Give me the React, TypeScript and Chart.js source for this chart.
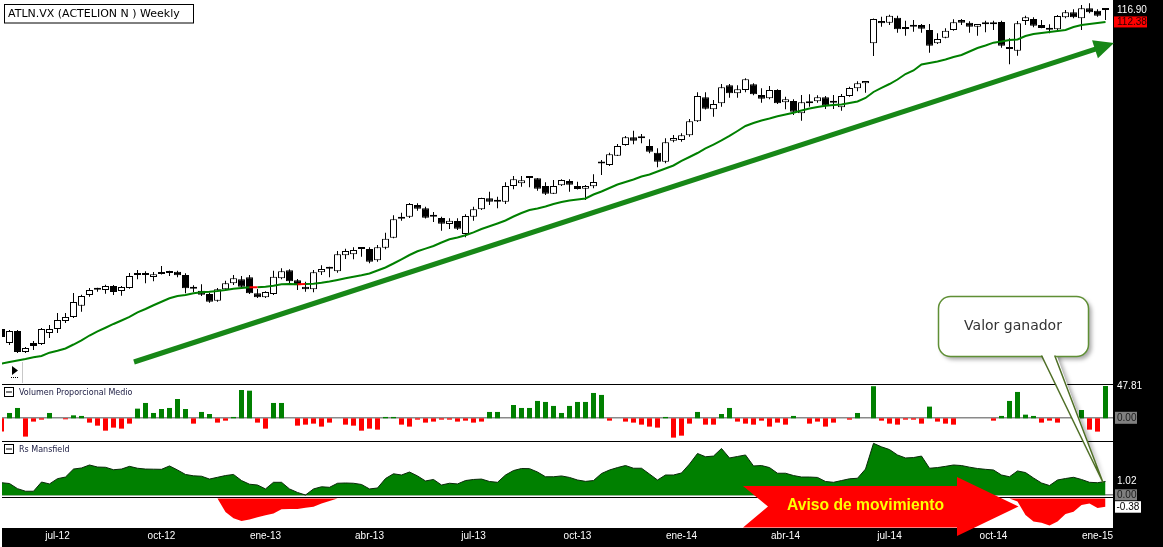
import React, { useEffect, useRef } from 'react';
import { Chart, registerables } from 'chart.js';

Chart.register(...registerables);

// ---------------- DATA (weekly candles) ----------------
const opens = [
  40.80, 38.96, 40.53, 37.82, 38.96, 38.83, 40.26, 40.80, 41.89, 42.45,
  44.06, 45.64, 46.45, 46.40, 47.02, 46.25, 46.71, 48.75, 48.75, 48.43,
  48.91, 49.08, 49.29, 48.75, 46.60, 46.29, 45.79, 44.79, 46.51, 47.44,
  48.07, 48.39, 45.90, 45.30, 45.79, 48.23, 49.52, 47.91, 46.91, 46.51,
  49.19, 49.78, 49.36, 52.03, 52.20, 53.13, 53.13, 51.18, 53.35, 55.14,
  58.71, 59.10, 61.42, 60.76, 59.10, 58.85, 57.69, 58.27, 55.82, 59.10,
  60.56, 62.80, 62.10, 62.10, 65.40, 65.98, 67.15, 67.08, 65.40, 63.76,
  65.55, 66.49, 65.40, 64.82, 65.33, 70.79, 70.09, 72.27, 74.87, 76.81,
  76.55, 74.63, 73.00, 70.86, 75.95, 76.12, 77.31, 80.96, 87.64, 84.24,
  85.92, 91.18, 88.81, 89.78, 91.48, 88.31, 87.35, 89.78, 86.21, 86.58,
  83.11, 86.38, 86.49, 87.64, 86.09, 84.80, 88.02, 90.29, 91.79, 104.74,
  112.73, 112.10, 113.96, 109.79, 110.63, 111.25, 109.43, 104.74, 106.69, 109.43,
  113.10, 112.10, 110.63, 111.51, 111.51, 112.36, 102.78, 102.21, 112.73, 113.48,
  111.25, 109.54, 109.68, 114.12, 116.02, 113.74, 117.56, 116.63, 117.17,
];
const highs = [
  41.07, 40.66, 40.66, 38.45, 39.21, 40.93, 41.34, 43.01, 43.01, 45.94,
  45.69, 46.71, 46.75, 47.22, 47.17, 47.02, 49.08, 49.57, 49.36, 49.24,
  50.23, 49.46, 49.46, 49.03, 47.12, 47.28, 45.99, 46.71, 47.85, 48.75,
  48.59, 48.75, 46.55, 46.20, 49.46, 49.85, 49.68, 48.12, 47.69, 49.57,
  50.34, 50.11, 52.78, 53.18, 53.43, 53.18, 53.43, 53.83, 56.06, 59.37,
  59.89, 61.83, 61.77, 61.08, 60.02, 59.10, 58.79, 58.79, 59.57, 61.08,
  62.92, 64.18, 63.13, 66.20, 67.60, 67.60, 67.60, 67.15, 66.20, 66.71,
  66.87, 66.87, 66.34, 65.61, 67.98, 71.26, 73.00, 75.12, 77.14, 78.49,
  77.65, 76.30, 74.06, 76.55, 77.39, 77.83, 81.58, 89.10, 89.10, 86.86,
  91.57, 91.57, 91.18, 93.31, 91.79, 90.29, 90.97, 89.99, 87.82, 87.06,
  88.31, 88.52, 88.22, 88.02, 88.31, 88.60, 90.76, 92.40, 92.49, 113.67,
  114.34, 115.09, 114.72, 112.84, 113.10, 111.62, 111.62, 108.25, 110.05, 113.36,
  113.48, 112.62, 111.62, 112.84, 112.84, 112.84, 106.48, 112.73, 114.72, 114.12,
  113.10, 111.51, 114.98, 116.90, 117.17, 118.84, 119.51, 117.17, 117.56,
];
const lows = [
  39.60, 38.70, 37.69, 37.69, 38.07, 38.70, 39.60, 40.26, 41.62, 42.31,
  43.20, 45.39, 46.14, 45.84, 45.64, 45.54, 46.60, 48.07, 47.44, 47.75,
  48.83, 48.59, 48.39, 45.90, 46.10, 45.49, 44.50, 44.64, 46.29, 47.17,
  46.66, 45.79, 45.19, 45.19, 45.64, 48.07, 47.44, 46.40, 46.14, 46.05,
  48.75, 48.39, 49.13, 51.40, 51.35, 51.79, 50.68, 50.94, 53.08, 55.03,
  58.33, 58.85, 60.28, 58.75, 58.08, 56.43, 56.75, 56.56, 55.21, 58.33,
  60.42, 61.42, 60.76, 61.62, 64.69, 65.25, 65.12, 64.39, 63.48, 63.69,
  65.40, 64.18, 64.65, 62.45, 64.90, 67.82, 69.86, 72.20, 74.70, 75.05,
  75.30, 72.85, 69.56, 70.48, 75.55, 75.70, 76.96, 80.78, 84.18, 82.21,
  84.96, 87.53, 87.53, 89.10, 88.22, 86.09, 87.06, 85.72, 84.24, 82.67,
  81.12, 84.96, 86.09, 84.32, 84.32, 83.85, 87.82, 89.40, 88.99, 100.44,
  110.63, 111.25, 108.46, 107.39, 108.82, 108.46, 101.54, 104.50, 106.48, 109.18,
  111.25, 108.46, 107.39, 108.61, 109.43, 103.23, 97.72, 100.54, 111.25, 110.41,
  110.05, 108.25, 109.43, 113.74, 113.74, 109.43, 115.63, 114.34, 113.10,
];
const closes = [
  39.74, 40.53, 37.82, 38.32, 38.57, 40.80, 40.80, 42.03, 42.45, 44.60,
  45.49, 46.40, 46.45, 47.02, 46.10, 46.86, 48.59, 48.75, 48.75, 48.86,
  48.91, 49.08, 48.70, 46.66, 46.60, 45.69, 44.64, 46.51, 47.44, 48.23,
  46.91, 45.90, 45.30, 46.10, 48.48, 49.36, 47.75, 47.12, 46.51, 49.19,
  49.73, 49.78, 52.20, 52.78, 52.95, 53.13, 50.94, 53.43, 54.96, 58.60,
  59.10, 61.62, 60.68, 58.91, 59.10, 57.75, 58.33, 56.80, 59.24, 60.56,
  62.86, 62.10, 62.10, 65.40, 66.87, 66.64, 67.15, 64.82, 63.76, 65.40,
  66.71, 65.68, 64.75, 65.40, 66.27, 70.44, 72.61, 74.63, 76.81, 75.95,
  76.55, 73.24, 70.86, 75.55, 76.63, 77.31, 80.96, 88.02, 84.40, 85.72,
  90.58, 88.81, 89.99, 93.01, 88.52, 87.24, 89.78, 85.92, 87.06, 83.57,
  86.21, 85.92, 87.64, 85.24, 86.09, 88.02, 90.38, 91.79, 92.49, 113.48,
  111.88, 114.72, 109.68, 109.79, 110.63, 109.90, 103.91, 106.23, 109.18, 112.25,
  112.10, 110.63, 111.62, 111.51, 111.51, 103.91, 102.78, 111.88, 114.12, 110.99,
  110.16, 109.54, 114.60, 116.02, 114.12, 117.56, 116.02, 114.72, 116.90,
];
const movingAvg = [
  36.39, 36.59, 36.77, 36.95, 37.16, 37.32, 37.73, 37.98, 38.26, 38.76,
  39.30, 39.93, 40.49, 40.97, 41.48, 41.96, 42.45, 43.09, 43.58, 44.12,
  44.64, 45.15, 45.49, 45.64, 45.90, 46.07, 46.14, 46.25, 46.40, 46.60,
  46.71, 46.82, 46.82, 46.91, 47.06, 47.28, 47.33, 47.30, 47.31, 47.38,
  47.53, 47.72, 47.96, 48.23, 48.48, 48.70, 49.00, 49.49, 49.98, 50.64,
  51.35, 52.08, 52.72, 53.18, 53.65, 54.28, 54.85, 55.18, 55.58, 56.13,
  56.75, 57.26, 57.79, 58.36, 59.14, 59.83, 60.42, 60.72, 61.12, 61.62,
  62.04, 62.35, 62.55, 62.76, 63.59, 64.22, 64.97, 65.72, 66.27, 66.82,
  67.49, 67.93, 68.60, 69.29, 69.98, 71.03, 71.97, 72.92, 74.02, 74.99,
  76.00, 77.14, 78.41, 79.72, 80.51, 81.18, 81.72, 82.32, 82.81, 83.30,
  83.90, 84.46, 84.88, 85.22, 85.44, 85.58, 86.01, 86.43, 87.44, 89.19,
  90.38, 91.57, 92.94, 94.64, 95.74, 97.65, 98.14, 98.63, 99.29, 100.11,
  100.77, 101.94, 103.12, 103.98, 104.95, 105.36, 105.88, 106.06, 107.28, 108.00,
  108.35, 108.71, 109.07, 109.43, 110.52, 111.25, 111.62, 112.00, 112.38,
];
// week indexes where the average is drawn red (segment starting at that week)
const maRedSegments = [31, 37];

const volumeProp = [
  -19.7, 7.9, 15.3, -27.1, -4.9, -2.0, 7.9, 0, -1.5, 4.4,
  3.5, -6.4, -10.9, -18.3, -13.8, -15.3, -7.9, 14.3, 22.7, 7.9,
  13.8, 15.3, 28.6, 13.8, -7.9, 9.4, 6.4, -6.4, -3.5, 2.0,
  41.9, 40.9, -6.4, -15.3, 22.7, 22.7, 0, -10.9, -9.4, -7.9,
  -12.3, -6.4, 0, -9.4, -10.9, -18.3, -15.3, -16.8, 2.0, 2.0,
  -9.4, -12.3, -2.0, -6.4, -4.9, -2.0, -2.0, -4.9, -3.5, -6.4,
  -4.9, 9.4, 9.4, 0, 19.7, 15.3, 15.3, 25.7, 24.2, 18.3,
  7.9, 18.3, 24.2, 24.2, 37.5, 34.6, -3.5, 0, -4.9, -6.4,
  -9.4, -12.3, -13.8, 2.0, -28.6, -25.7, -7.9, 9.4, -9.4, -9.4,
  6.4, 15.3, -4.9, -7.9, -9.4, -3.5, -12.3, -6.4, -9.4, 3.5,
  0, -7.9, -4.9, -12.3, -6.4, 0, -2.0, 7.9, 0, 47.5,
  -3.5, -7.9, -9.4, -2.0, -2.0, -7.9, 17.3, -4.9, -7.9, -9.4,
  0, 0, 0, 0, -3.5, 3.5, 25.7, 39.0, 5.4, 3.5,
  -6.4, -3.5, -6.4, 0, 0, 12.3, -16.8, -19.7, 47.81,
];
const rsMansfield = [
  0.93, 0.87, 0.49, 0.30, 0.30, 0.98, 0.84, 1.23, 1.35, 1.94,
  2.02, 2.24, 2.09, 2.07, 1.89, 1.94, 2.14, 2.00, 1.94, 1.93,
  1.92, 2.17, 1.87, 1.54, 1.44, 1.41, 1.20, 1.33, 1.46, 1.54,
  1.09, 0.82, 0.76, 0.47, 0.96, 0.96, 0.47, 0.21, 0.02, 0.47,
  0.63, 0.59, 0.89, 0.91, 0.89, 0.80, 0.47, 0.54, 1.24, 1.59,
  1.50, 1.72, 1.43, 1.06, 1.17, 0.76, 0.89, 0.84, 1.09, 1.17,
  1.20, 1.02, 0.96, 1.50, 1.83, 1.98, 1.97, 1.72, 1.37, 1.37,
  1.43, 1.32, 1.13, 1.03, 1.09, 1.61, 1.87, 2.05, 2.20, 2.00,
  2.00, 1.57, 1.13, 1.50, 1.50, 1.65, 2.31, 3.09, 2.85, 2.90,
  3.46, 2.76, 2.87, 2.98, 2.17, 2.20, 2.05, 1.63, 1.63, 1.46,
  1.35, 1.35, 1.32, 1.02, 0.96, 1.09, 1.22, 1.26, 1.94, 3.84,
  3.58, 3.38, 2.98, 2.76, 2.79, 2.90, 2.00, 2.05, 2.14, 2.24,
  2.20, 2.08, 1.98, 1.92, 1.87, 1.50, 1.37, 1.80, 1.68, 1.28,
  0.91, 0.72, 1.13, 1.24, 1.33, 1.17, 0.96, 0.93, 1.02,
];
const rsNegative = [
  0, 0, 0, 0, 0, 0, 0, 0, 0, 0,
  0, 0, 0, 0, 0, 0, 0, 0, 0, 0,
  0, 0, 0, 0, 0, 0, 0, 0, -0.63, -0.92,
  -1.04, -0.97, -0.87, -0.78, -0.69, -0.50, -0.49, -0.49, -0.43, -0.38,
  -0.23, -0.12, 0, 0, 0, 0, 0, 0, 0, 0,
  0, 0, 0, 0, 0, 0, 0, 0, 0, 0,
  0, 0, 0, 0, 0, 0, 0, 0, 0, 0,
  0, 0, 0, 0, 0, 0, 0, 0, 0, 0,
  0, 0, 0, 0, 0, 0, 0, 0, 0, 0,
  0, 0, 0, 0, 0, 0, 0, 0, 0, 0,
  0, 0, 0, 0, 0, 0, 0, 0, 0, 0,
  0, 0, 0, 0, 0, 0, 0, 0, 0, 0,
  0, 0, 0, 0, 0, 0, 0, -0.14, -0.76, -1.07,
  -1.12, -1.25, -1.07, -0.72, -0.61, -0.30, -0.23, -0.44, -0.38,
];

const xTickIndex = [7, 20, 33, 46, 59, 72, 85, 98, 111, 124, 137];
const xTickLabels = ['jul-12', 'oct-12', 'ene-13', 'abr-13', 'jul-13', 'oct-13', 'ene-14', 'abr-14', 'jul-14', 'oct-14', 'ene-15'];

const TITLE = 'ATLN.VX (ACTELION N ) Weekly';

// ---------------- LAYOUT ----------------
const W = 1163;
const H = 547;
const PLOT_L = 2;
const PLOT_R = 1113;
const PLOT_B = 528;
const SLOT = 8;
const X0 = 1.5;
const MAIN_TOP = 120.82;
const MAIN_K = 0.0033;

function linRange(zeroPx: number, pxPerUnit: number) {
  return { min: -(PLOT_B - zeroPx) / pxPerUnit, max: zeroPx / pxPerUnit };
}
const volRange = linRange(418.3, 32.3 / 47.81);
const rsGRange = linRange(495.3, 13.53);
const rsRRange = linRange(498.5, 21.6);

function roundRectPath(ctx: CanvasRenderingContext2D, x: number, y: number, w: number, h: number, r: number) {
  ctx.beginPath();
  ctx.moveTo(x + r, y);
  ctx.lineTo(x + w - r, y);
  ctx.arcTo(x + w, y, x + w, y + r, r);
  ctx.lineTo(x + w, y + h - r);
  ctx.arcTo(x + w, y + h, x + w - r, y + h, r);
  ctx.lineTo(x + r, y + h);
  ctx.arcTo(x, y + h, x, y + h - r, r);
  ctx.lineTo(x, y + r);
  ctx.arcTo(x, y, x + r, y, r);
  ctx.closePath();
}

const decorPlugin = {
  id: 'decor',
  beforeDraw(chart: any) {
    const ctx = chart.ctx;
    ctx.save();
    ctx.fillStyle = '#ffffff';
    ctx.fillRect(0, 0, W, H);
    ctx.fillStyle = '#000000';
    ctx.fillRect(PLOT_L, PLOT_B, W - PLOT_L, H - PLOT_B);
    ctx.fillRect(PLOT_R, 0, W - PLOT_R, H);
    ctx.restore();
  },
  beforeDatasetsDraw(chart: any) {
    const { ctx, scales } = chart;
    ctx.save();
    ctx.fillStyle = '#8a8a8a';
    const yv = scales.yVol.getPixelForValue(0);
    ctx.fillRect(PLOT_L, Math.round(yv) - 1, PLOT_R - PLOT_L, 1.5);
    const yg = scales.yG.getPixelForValue(0);
    ctx.fillRect(PLOT_L, Math.round(yg) - 1, PLOT_R - PLOT_L, 1.5);
    ctx.restore();
  },
  afterDatasetsDraw(chart: any) {
    const { ctx, scales } = chart;
    const xs = scales.x, ym = scales.yMain, yv = scales.yVol, yg = scales.yG, yr = scales.yR;
    const N = closes.length;
    ctx.save();

    // panel separators
    ctx.fillStyle = '#000000';
    ctx.fillRect(PLOT_L, 384, PLOT_R - PLOT_L, 1);
    ctx.fillRect(PLOT_L, 441, PLOT_R - PLOT_L, 1);
    ctx.fillRect(PLOT_L, 497, PLOT_R - PLOT_L, 1);

    // title box
    ctx.strokeStyle = '#000000';
    ctx.lineWidth = 1;
    ctx.fillStyle = '#ffffff';
    ctx.fillRect(4.5, 4.5, 189, 18.5);
    ctx.strokeRect(4.5, 4.5, 189, 18.5);
    ctx.fillStyle = '#000000';
    ctx.font = '11px "DejaVu Sans"';
    ctx.textBaseline = 'middle';
    ctx.textAlign = 'left';
    ctx.fillText(TITLE, 8, 14.5);

    // panel headers
    const header = (y: number, text: string) => {
      ctx.strokeStyle = '#000000';
      ctx.lineWidth = 1;
      ctx.strokeRect(4.5, y - 4.5, 9, 9);
      ctx.fillStyle = '#000000';
      ctx.fillRect(6, y - 0.5, 6, 1);
      ctx.fillStyle = '#1a1a40';
      ctx.font = '8px "DejaVu Sans"';
      ctx.fillText(text, 19, y + 0.5);
    };
    header(392, 'Volumen Proporcional Medio');
    header(449, 'Rs Mansfield');

    // small play icon
    ctx.fillStyle = '#000000';
    ctx.beginPath();
    ctx.moveTo(12, 366); ctx.lineTo(12, 375); ctx.lineTo(18, 370.5); ctx.closePath(); ctx.fill();
    for (let k = 0; k < 4; k++) ctx.fillRect(11 + k * 2, 377, 1, 1);
    ctx.fillStyle = '#c8c8c8';
    ctx.fillRect(22, 362, 1, 21);

    // trend arrow
    const sx = 134, sy = 362, tx = 1114, ty = 43;
    const len = Math.hypot(tx - sx, ty - sy);
    const ux = (tx - sx) / len, uy = (ty - sy) / len;
    const bxp = tx - ux * 20, byp = ty - uy * 20;
    ctx.strokeStyle = '#178717';
    ctx.fillStyle = '#178717';
    ctx.lineWidth = 5;
    ctx.beginPath();
    ctx.moveTo(sx, sy);
    ctx.lineTo(bxp + ux * 2, byp + uy * 2);
    ctx.stroke();
    ctx.beginPath();
    ctx.moveTo(tx, ty);
    ctx.lineTo(bxp - uy * 9.5, byp + ux * 9.5);
    ctx.lineTo(bxp + uy * 9.5, byp - ux * 9.5);
    ctx.closePath();
    ctx.fill();

    // red "Aviso de movimiento" arrow
    ctx.fillStyle = '#ff0000';
    ctx.beginPath();
    ctx.moveTo(743, 486);
    ctx.lineTo(957, 486);
    ctx.lineTo(957, 477);
    ctx.lineTo(1018.5, 506.5);
    ctx.lineTo(957, 536);
    ctx.lineTo(957, 527.5);
    ctx.lineTo(743, 527.5);
    ctx.lineTo(768, 506.5);
    ctx.closePath();
    ctx.fill();
    ctx.fillStyle = '#ffff00';
    ctx.font = 'bold 16px "Liberation Sans"';
    ctx.textBaseline = 'middle';
    ctx.fillText('Aviso de movimiento', 787, 506, 157);

    // callout "Valor ganador"
    const ptx = xs.getPixelForValue(N - 1) - 2.5;
    const pty = yg.getPixelForValue(rsMansfield[N - 1]) + 1;
    const bx = 938.5, by = 296.5, bw = 150, bh = 60;
    ctx.save();
    ctx.shadowColor = 'rgba(0,0,0,0.35)';
    ctx.shadowBlur = 4;
    ctx.shadowOffsetX = 3;
    ctx.shadowOffsetY = 3;
    ctx.fillStyle = '#ffffff';
    roundRectPath(ctx, bx, by, bw, bh, 12);
    ctx.fill();
    ctx.beginPath();
    ctx.moveTo(1041.5, 350); ctx.lineTo(ptx, pty); ctx.lineTo(1054.7, 350); ctx.closePath();
    ctx.fill();
    ctx.restore();
    ctx.fillStyle = '#ffffff';
    roundRectPath(ctx, bx, by, bw, bh, 12);
    ctx.fill();
    ctx.strokeStyle = '#5f8f35';
    ctx.lineWidth = 1.5;
    ctx.stroke();
    ctx.fillStyle = '#ffffff';
    ctx.beginPath();
    ctx.moveTo(1041.5, 354); ctx.lineTo(ptx, pty); ctx.lineTo(1054.7, 354); ctx.closePath();
    ctx.fill();
    ctx.strokeStyle = '#4f6f26';
    ctx.lineWidth = 1.5;
    ctx.beginPath();
    ctx.moveTo(1041.5, 355.5); ctx.lineTo(ptx, pty); ctx.lineTo(1054.7, 355.5);
    ctx.stroke();
    ctx.fillStyle = '#333333';
    ctx.font = '14px "DejaVu Sans"';
    ctx.textAlign = 'center';
    ctx.fillText('Valor ganador', 1013, 326);
    ctx.textAlign = 'left';

    // right-hand value labels
    ctx.font = '10px "Liberation Sans"';
    ctx.textBaseline = 'middle';
    const yClose = ym.getPixelForValue(closes[N - 1]);
    ctx.fillStyle = '#ffffff';
    ctx.fillText(closes[N - 1].toFixed(2), 1117, yClose);
    const yMa = ym.getPixelForValue(movingAvg[N - 1]);
    ctx.fillStyle = '#ff0000';
    ctx.fillRect(1114, yMa - 5.5, 33, 11);
    ctx.fillStyle = '#2a0000';
    ctx.fillText(movingAvg[N - 1].toFixed(2), 1117, yMa + 0.5);

    const yVolLast = yv.getPixelForValue(volumeProp[N - 1]);
    ctx.fillStyle = '#ffffff';
    ctx.fillText(volumeProp[N - 1].toFixed(2), 1117, yVolLast);
    const yVol0 = yv.getPixelForValue(0);
    ctx.fillStyle = '#808080';
    ctx.fillRect(1115, yVol0 - 6.5, 22, 12);
    ctx.fillStyle = '#1a1a1a';
    ctx.fillText((0).toFixed(2), 1117, yVol0);

    const yRs = yg.getPixelForValue(rsMansfield[N - 1]);
    ctx.fillStyle = '#ffffff';
    ctx.fillText(rsMansfield[N - 1].toFixed(2), 1117, yRs);
    const yRs0 = yg.getPixelForValue(0);
    ctx.fillStyle = '#808080';
    ctx.fillRect(1115, yRs0 - 6, 22, 11);
    ctx.fillStyle = '#1a1a1a';
    ctx.fillText((0).toFixed(2), 1117, yRs0 - 0.5);
    const yNeg = yr.getPixelForValue(rsNegative[N - 1]);
    ctx.fillStyle = '#ffffff';
    ctx.fillRect(1115, yNeg - 5.5, 26, 11.5);
    ctx.fillStyle = '#000000';
    ctx.fillText(rsNegative[N - 1].toFixed(2), 1116.5, yNeg + 0.5);

    ctx.restore();
  },
};

export default function App() {
  const ref = useRef<HTMLCanvasElement | null>(null);

  useEffect(() => {
    document.body.style.margin = '0';
    const canvas = ref.current;
    if (!canvas) return;
    const idx = closes.map((_, i) => i);
    const bodyColors = idx.map((i) => (closes[i] > opens[i] ? '#ffffff' : '#000000'));

    const config: any = {
      type: 'bar',
      data: {
        datasets: [
          {
            type: 'bar',
            label: 'wick',
            data: idx.map((i) => ({ x: i, y: [lows[i], highs[i]] })),
            yAxisID: 'yMain',
            backgroundColor: '#000000',
            borderWidth: 0,
            barThickness: 1,
            grouped: false,
            inflateAmount: 0,
            order: 3,
          },
          {
            type: 'bar',
            label: 'body',
            data: idx.map((i) => ({ x: i, y: [Math.min(opens[i], closes[i]), Math.max(opens[i], closes[i])] })),
            yAxisID: 'yMain',
            backgroundColor: bodyColors,
            borderColor: '#000000',
            borderWidth: 1,
            borderSkipped: false,
            barThickness: 7,
            minBarLength: 2,
            grouped: false,
            inflateAmount: 0,
            order: 2,
          },
          {
            type: 'line',
            label: 'MA',
            data: idx.map((i) => ({ x: i, y: movingAvg[i] })),
            yAxisID: 'yMain',
            borderColor: '#008000',
            borderWidth: 2,
            pointRadius: 0,
            fill: false,
            segment: {
              borderColor: (c: any) => (maRedSegments.includes(c.p0DataIndex) ? '#ff0000' : undefined),
            },
            order: 1,
          },
          {
            type: 'bar',
            label: 'Volumen Proporcional Medio',
            data: idx.map((i) => ({ x: i, y: volumeProp[i] })),
            yAxisID: 'yVol',
            backgroundColor: volumeProp.map((v) => (v >= 0 ? '#008000' : '#ff0000')),
            borderWidth: 0,
            barThickness: 5,
            grouped: false,
            inflateAmount: 0,
            order: 4,
          },
          {
            type: 'line',
            label: 'Rs Mansfield',
            data: idx.map((i) => ({ x: i, y: rsMansfield[i] })),
            yAxisID: 'yG',
            borderColor: '#0a2a0a',
            borderWidth: 1,
            backgroundColor: '#008000',
            fill: 'origin',
            pointRadius: 0,
            order: 5,
          },
          {
            type: 'line',
            label: 'Rs negativo',
            data: idx.map((i) => ({ x: i, y: rsNegative[i] })),
            yAxisID: 'yR',
            borderWidth: 0,
            borderColor: 'rgba(0,0,0,0)',
            backgroundColor: '#ff0000',
            fill: 'origin',
            pointRadius: 0,
            order: 6,
          },
        ],
      },
      options: {
        responsive: false,
        maintainAspectRatio: false,
        animation: false,
        events: [],
        layout: { padding: { left: PLOT_L, right: W - PLOT_R, top: 0, bottom: 0 } },
        plugins: {
          legend: { display: false },
          tooltip: { enabled: false },
          title: { display: false },
        },
        scales: {
          x: {
            type: 'linear',
            position: 'bottom',
            min: (PLOT_L - X0) / SLOT,
            max: (PLOT_R - X0) / SLOT,
            bounds: 'data',
            offset: false,
            grid: { display: false, drawTicks: false },
            border: { display: false },
            ticks: {
              color: '#ffffff',
              font: { family: '"Liberation Sans"', size: 10 },
              padding: 2,
              autoSkip: false,
              maxRotation: 0,
              minRotation: 0,
              callback: (_v: any, i: number) => xTickLabels[i] ?? '',
            },
            afterBuildTicks: (s: any) => {
              s.ticks = xTickIndex.map((v) => ({ value: v }));
            },
            afterFit: (s: any) => {
              s.height = H - PLOT_B;
            },
          },
          yMain: {
            type: 'logarithmic',
            display: false,
            bounds: 'data',
            min: MAIN_TOP * Math.exp(-MAIN_K * PLOT_B),
            max: MAIN_TOP,
          },
          yVol: { type: 'linear', display: false, bounds: 'data', min: volRange.min, max: volRange.max },
          yG: { type: 'linear', display: false, bounds: 'data', min: rsGRange.min, max: rsGRange.max },
          yR: { type: 'linear', display: false, bounds: 'data', min: rsRRange.min, max: rsRRange.max },
        },
      },
      plugins: [decorPlugin],
    };

    const chart = new Chart(canvas, config);
    return () => chart.destroy();
  }, []);

  return (
    <div style={{ width: W, height: H, position: 'relative', background: '#ffffff' }}>
      <canvas ref={ref} width={W} height={H} style={{ display: 'block', width: W, height: H }} />
    </div>
  );
}
